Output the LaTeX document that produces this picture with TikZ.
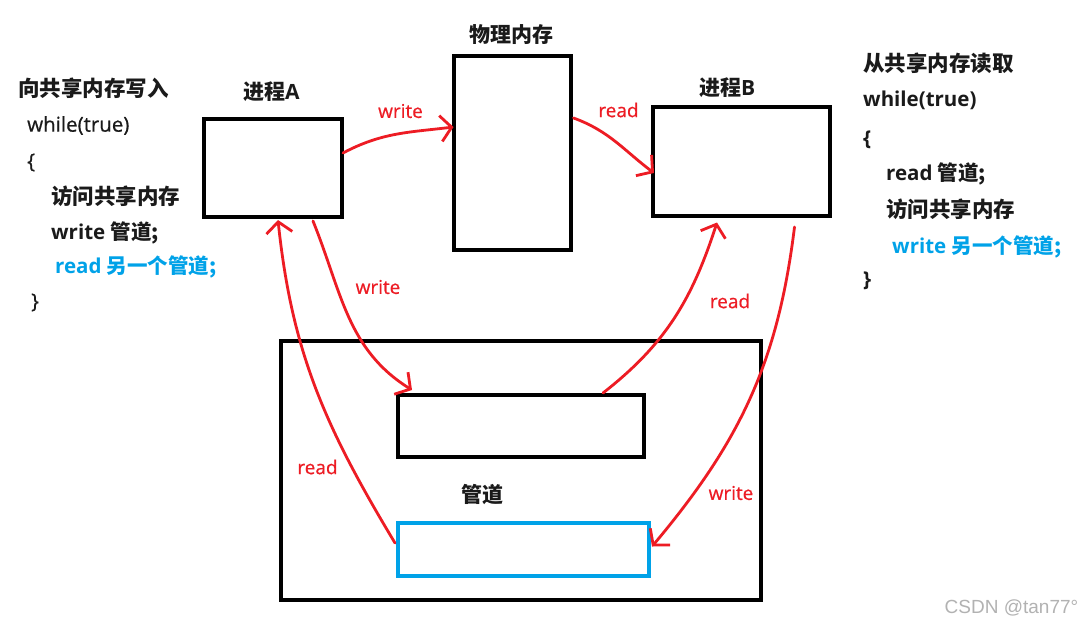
\documentclass[tikz,border=0pt]{standalone}
\usepackage{fontspec}
\setmainfont{Open Sans}
\newfontfamily\cjk{Noto Sans CJK SC}
\newfontfamily\medfont{Open Sans}[FakeBold=0.6]
\newfontfamily\wmfont{Liberation Sans}
\usetikzlibrary{arrows.meta,calc}
\definecolor{pred}{HTML}{ED1C24}
\definecolor{pblue}{HTML}{00A2E8}
\definecolor{txt}{HTML}{1A1A1A}
\begin{document}
\begin{tikzpicture}[x=1pt,y=-1pt,
  bx/.style={draw=black,line width=4pt,inner sep=0pt,outer sep=0pt},
  title/.style={inner sep=0pt,text=txt,font=\cjk\bfseries\fontsize{21}{24}\selectfont},
  code/.style={anchor=west,inner sep=0pt,text=txt,font=\fontsize{20.5}{24}\selectfont},
  cjkcode/.style={anchor=west,inner sep=0pt,text=txt,font=\cjk\bfseries\fontsize{21.5}{26}\selectfont},
  rl/.style={inner sep=0pt,text=pred,font=\medfont\fontsize{19}{22}\selectfont},
  arr/.style={draw=pred,line width=2.8pt,line cap=round,line join=round,
    -{Straight Barb[length=11pt,width=26pt]}}
]
\fill[white] (0,0) rectangle (1085,626);
\useasboundingbox (0,0) rectangle (1085,626);

% boxes
\node[bx,minimum width=138pt,minimum height=98pt] (A) at (273,168) {};
\node[bx,minimum width=117pt,minimum height=194pt] (mem) at (512,153) {};
\node[bx,minimum width=177pt,minimum height=109pt] (B) at (741.5,161.5) {};
\node[bx,minimum width=480pt,minimum height=259pt] (pipe) at (521,470.5) {};
\node[bx,minimum width=246pt,minimum height=62pt] (p1) at (521,426) {};
\node[bx,draw=pblue,minimum width=251pt,minimum height=53pt] (p2) at (523.5,549) {};

% titles
\node[title] (tmem) at (511.5,35) {物理内存};
\node[title,anchor=west] (tA) at (243,91.5) {进程\fontspec{Open Sans}\bfseries A};
\node[title,anchor=west] (tB) at (699,87.5) {进程\fontspec{Open Sans}\bfseries B};
\node[title] (tpipe) at (482,495) {管道};

% left code
\node[cjkcode] (l1) at (18,88) {向共享内存写入};
\node[code,font=\medfont\fontsize{20.5}{24}\selectfont] (l2) at (27,125.5) {while(true)};
\node[code,font=\medfont\fontsize{20.5}{24}\selectfont] (l3) at (27,162.5) {\{};
\node[cjkcode] (l4) at (51,196.5) {访问共享内存};
\node[code] (l5) at (51,232.5) {\bfseries write {\cjk 管道;}};
\node[code,text=pblue] (l6) at (55,267) {\bfseries read {\cjk 另一个管道;}};
\node[code,font=\medfont\fontsize{20.5}{24}\selectfont] (l7) at (31,302.5) {\}};

% right code
\node[cjkcode] (r1) at (863,63) {从共享内存读取};
\node[code] (r2) at (863,100) {\bfseries while(true)};
\node[code] (r3) at (863,139.5) {\bfseries \{};
\node[code] (r4) at (886,174) {\bfseries read {\cjk 管道;}};
\node[cjkcode] (r5) at (886,209) {访问共享内存};
\node[code,text=pblue] (r6) at (892,246.5) {\bfseries write {\cjk 另一个管道;}};
\node[code] (r7) at (863,281) {\bfseries \}};

% red labels
\node[rl] (w1) at (400.5,111) {write};
\node[rl] (rd1) at (618.5,110) {read};
\node[rl] (w2) at (378,287) {write};
\node[rl] (rd2) at (730,301) {read};
\node[rl] (rd3) at (317.5,467) {read};
\node[rl] (w3) at (731,493) {write};

% arrows
\draw[arr] ($(A.east)+(1,-15)$) to[out=28,in=187] ($(mem.west)+(0,-26)$);
\draw[arr] ($(mem.east)+(3,-35)$) to[out=-20,in=143] ($(B.west)+(1,11.5)$);
\draw[arr] ($(A.south)+(40,4)$) to[out=-68,in=148] ($(p1.north)+(-109,-5)$);
\draw[arr] ($(p1.north)+(82,-2)$) to[out=38,in=252] ($(B.south)+(-24.5,6.5)$);
\draw[arr] ($(B.south east)+(-35.5,11)$) to[out=-97,in=50] ($(p2.east)+(3,-2.5)$);
\draw[arr] ($(p2.west)+(-3,-6)$) to[out=121,in=-84] ($(A.south)+(5,3)$);

% watermark
\node[inner sep=0pt,text=black!30,font=\wmfont\fontsize{19}{21}\selectfont] (wm) at (1011.5,608) {CSDN @tan77°};
\end{tikzpicture}
\end{document}
